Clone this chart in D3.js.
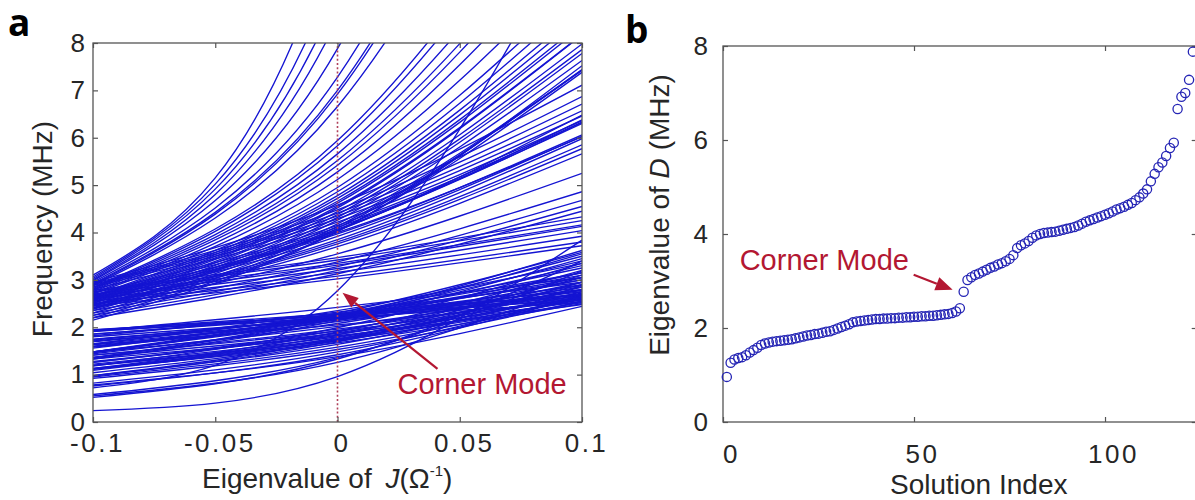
<!DOCTYPE html>
<meta charset="utf-8">
<style>

body {
  margin: 0;
  background: #fff;
}

text {
  font-family: "Liberation Sans", Arial, sans-serif;
  fill: #262626;
}

.tick-label {
  font-size: 26px;
}

.tick-label.x {
  letter-spacing: 2.5px;
}

.axis-label {
  font-size: 28px;
}

.panel-tag {
  font-family: "Open Sans", sans-serif;
  font-weight: bold;
  font-size: 37px;
  fill: #000;
}

.note {
  font-size: 29px;
  fill: #b31732;
}

</style>
<svg width="1195" height="500"></svg>
<script src="https://d3js.org/d3.v7.min.js"></script>
<script>

// ---- panel a: frequency vs eigenvalue of J ----
let jTicks = [-0.1, -0.05, 0, 0.05, 0.1];
let freqTicks = [0, 1, 2, 3, 4, 5, 6, 7, 8];
// each curve is read at J = -0.1, 0 and 0.1 (values above 8 run off the top)
let jSamples = [-0.1, 0, 0.1];

let lowerBand = [
  [0.24, 0.96, 3.84], [0.55, 1.26, 2.89], [0.52, 1.33, 3.40], [0.58, 1.36, 3.19], [0.78, 1.38, 2.44],
  [0.76, 1.42, 2.65], [0.82, 1.48, 2.67], [0.92, 1.53, 2.55], [0.95, 1.58, 2.62], [0.98, 1.64, 2.75],
  [1.12, 1.67, 2.50], [0.97, 1.69, 2.95], [1.12, 1.71, 2.60], [1.04, 1.72, 2.85], [1.19, 1.73, 2.52],
  [0.98, 1.74, 3.10], [1.13, 1.75, 2.70], [1.20, 1.76, 2.58], [1.09, 1.78, 2.90], [1.22, 1.80, 2.65],
  [1.33, 1.82, 2.48], [1.11, 1.84, 3.05], [1.28, 1.85, 2.68], [1.37, 1.87, 2.55], [1.26, 1.88, 2.80],
  [1.13, 1.90, 3.20], [1.41, 1.92, 2.62], [1.26, 1.93, 2.95], [1.41, 1.96, 2.72], [1.18, 1.99, 3.35],
  [1.47, 2.02, 2.78], [1.63, 2.05, 2.58], [1.44, 2.08, 3.00], [1.58, 2.12, 2.85], [1.33, 2.14, 3.45],
  [1.71, 2.15, 2.70], [1.48, 2.16, 3.15], [1.80, 2.17, 2.62], [1.64, 2.18, 2.90], [1.35, 2.19, 3.55],
  [1.75, 2.19, 2.75], [1.59, 2.20, 3.05], [1.92, 2.20, 2.52], [1.48, 2.21, 3.30], [1.74, 2.21, 2.80],
  [1.36, 2.22, 3.62], [1.86, 2.22, 2.65], [1.60, 2.23, 3.10], [1.73, 2.23, 2.88], [1.48, 2.24, 3.40],
  [1.95, 2.24, 2.58], [1.69, 2.25, 3.00], [1.56, 2.25, 3.25], [1.91, 2.26, 2.68], [1.46, 2.26, 3.50],
  [1.85, 2.27, 2.78], [1.65, 2.28, 3.15], [1.94, 2.29, 2.70], [1.48, 2.30, 3.58], [1.82, 2.32, 2.95],
  [1.65, 2.35, 3.35], [1.92, 2.42, 3.05]
];

let cornerCurve = [0.72, 2.77, 10.7];

let upperBand = [
  [2.45, 3.02, 3.72], [2.50, 3.08, 3.80], [2.20, 3.13, 4.45], [2.55, 3.16, 3.92], [2.25, 3.20, 4.55],
  [2.60, 3.24, 4.04], [2.30, 3.28, 4.68], [2.65, 3.31, 4.13], [2.70, 3.35, 4.16], [2.35, 3.38, 4.86],
  [2.75, 3.42, 4.25], [2.78, 3.47, 4.33], [2.40, 3.55, 5.25], [2.42, 3.70, 5.66], [2.45, 3.76, 5.77],
  [2.47, 3.80, 5.85], [2.48, 3.85, 5.98], [2.55, 3.92, 6.03], [2.60, 3.97, 6.06], [2.66, 4.00, 6.02],
  [2.15, 4.02, 7.52], [2.20, 4.03, 7.38], [2.52, 4.04, 6.48], [2.57, 4.05, 6.38], [2.62, 4.07, 6.32],
  [2.25, 4.09, 7.44], [2.68, 4.11, 6.30], [2.30, 4.13, 7.42], [2.72, 4.15, 6.33], [2.35, 4.18, 7.43],
  [2.80, 4.22, 6.36], [2.38, 4.26, 7.63], [2.85, 4.29, 6.46], [2.40, 4.32, 7.78], [2.88, 4.35, 6.57],
  [2.44, 4.38, 7.86], [2.90, 4.41, 6.71], [2.47, 4.44, 7.98], [2.92, 4.48, 6.87], [2.50, 4.52, 8.17],
  [2.53, 4.55, 8.18], [2.95, 4.58, 7.11], [2.56, 4.62, 8.34], [2.58, 4.66, 8.42], [2.60, 4.72, 8.57],
  [2.62, 4.78, 8.72], [2.64, 4.86, 8.95], [2.66, 4.95, 9.21], [2.70, 5.12, 9.71], [2.72, 5.28, 10.25],
  [2.75, 5.42, 10.68], [2.78, 5.52, 10.96], [2.80, 5.66, 11.44], [2.82, 5.83, 12.05], [2.84, 5.94, 12.42],
  [2.88, 6.66, 15.40], [2.90, 6.92, 16.51], [2.92, 7.00, 16.78], [2.95, 7.28, 17.97], [2.98, 7.88, 20.84],
  [3.00, 8.50, 24.1], [3.03, 9.00, 26.7], [3.06, 9.60, 30.1], [3.10, 10.6, 36.2]
];

// ---- panel b: sorted eigenvalues of D ----
let indexTicks = [0, 50, 100];
let eigTicks = [0, 2, 4, 6, 8];
let eigD = [
  0.96, 1.26, 1.33, 1.36, 1.38, 1.42, 1.48, 1.53, 1.58, 1.64,
  1.67, 1.69, 1.71, 1.72, 1.73, 1.74, 1.75, 1.76, 1.78, 1.80,
  1.82, 1.84, 1.85, 1.87, 1.88, 1.90, 1.92, 1.93, 1.96, 1.99,
  2.02, 2.05, 2.08, 2.12, 2.14, 2.15, 2.16, 2.17, 2.18, 2.19,
  2.19, 2.20, 2.20, 2.21, 2.21, 2.22, 2.22, 2.23, 2.23, 2.24,
  2.24, 2.25, 2.25, 2.26, 2.26, 2.27, 2.28, 2.29, 2.30, 2.32,
  2.35, 2.42, 2.77, 3.02, 3.08, 3.13, 3.16, 3.20, 3.24, 3.28,
  3.31, 3.35, 3.38, 3.42, 3.47, 3.55, 3.70, 3.76, 3.80, 3.85,
  3.92, 3.97, 4.00, 4.02, 4.03, 4.04, 4.05, 4.07, 4.09, 4.11,
  4.13, 4.15, 4.18, 4.22, 4.26, 4.29, 4.32, 4.35, 4.38, 4.41,
  4.44, 4.48, 4.52, 4.55, 4.58, 4.62, 4.66, 4.72, 4.78, 4.86,
  4.95, 5.12, 5.28, 5.42, 5.52, 5.66, 5.83, 5.94, 6.66, 6.92,
  7.00, 7.28, 7.88
];
let cornerIndex = 63;

let blue = '#1414d2';
let red = '#b31732';
let frameColor = '#555';

let svg = d3.select('svg');

let xA = d3.scaleLinear().domain([-0.1, 0.1]).range([93, 582]);
let yA = d3.scaleLinear().domain([0, 8]).range([422, 43]);
let xB = d3.scaleLinear().domain([0, 124]).range([723, 1196.7]);
let yB = d3.scaleLinear().domain([0, 8]).range([422, 46]);

// box with inward ticks on all four sides, like matlab
let drawAxes = (x, y, xTicks, yTicks, xPad, yPad, xShift) => {
  let [x0, x1] = x.range();
  let [y0, y1] = y.range();
  let g = svg.append('g');

  g.append('g').attr('transform', `translate(0,${y0})`)
    .call(d3.axisBottom(x).tickValues(xTicks).tickSize(-5).tickPadding(xPad).tickFormat(d => String(d)))
    .call(s => s.selectAll('text').attr('class', 'tick-label x').attr('dx', xShift));
  g.append('g').attr('transform', `translate(0,${y1})`)
    .call(d3.axisTop(x).tickValues(xTicks).tickSize(-5).tickFormat(''));
  g.append('g').attr('transform', `translate(${x0},0)`)
    .call(d3.axisLeft(y).tickValues(yTicks).tickSize(-5).tickPadding(yPad))
    .call(s => s.selectAll('text').attr('class', 'tick-label'));
  g.append('g').attr('transform', `translate(${x1},0)`)
    .call(d3.axisRight(y).tickValues(yTicks).tickSize(-5).tickFormat(''));

  g.selectAll('.domain').remove();
  g.selectAll('.tick line').attr('stroke', frameColor).attr('stroke-width', 1.2);

  g.append('rect')
    .attr('x', x0).attr('y', y1)
    .attr('width', x1 - x0).attr('height', y0 - y1)
    .attr('fill', 'none')
    .attr('stroke', frameColor)
    .attr('stroke-width', 1.3);
};

let arrow = (x1, y1, x2, y2, len, half) => {
  let a = Math.atan2(y2 - y1, x2 - x1);
  let bx = x2 - len * Math.cos(a);
  let by = y2 - len * Math.sin(a);
  svg.append('line')
    .attr('x1', x1).attr('y1', y1).attr('x2', bx).attr('y2', by)
    .attr('stroke', red).attr('stroke-width', 2.2);
  svg.append('path')
    .attr('d', `M${x2},${y2}L${bx + half * Math.sin(a)},${by - half * Math.cos(a)}L${bx - half * Math.sin(a)},${by + half * Math.cos(a)}Z`)
    .attr('fill', red);
};

// ---- panel a ----
svg.append('clipPath').attr('id', 'clipA')
  .append('rect')
    .attr('x', xA.range()[0]).attr('y', yA.range()[1])
    .attr('width', xA.range()[1] - xA.range()[0])
    .attr('height', yA.range()[0] - yA.range()[1]);

let modeLine = d3.line()
  .x((d, i) => xA(jSamples[i]))
  .y(d => yA(d))
  .curve(d3.curveNatural);

svg.append('g')
    .attr('clip-path', 'url(#clipA)')
  .selectAll('path')
  .data(lowerBand.concat(upperBand, [cornerCurve]))
  .join('path')
    .attr('d', modeLine)
    .attr('fill', 'none')
    .attr('stroke', blue)
    .attr('stroke-width', 1.35);

svg.append('line')
  .attr('x1', xA(0)).attr('x2', xA(0))
  .attr('y1', yA(0)).attr('y2', yA(8))
  .attr('stroke', '#b0405a')
  .attr('stroke-width', 1.6)
  .attr('stroke-dasharray', '2,2.2');

drawAxes(xA, yA, jTicks, freqTicks, 12, 8, 4);

let cxA = xA(0), cyA = yA(cornerCurve[1]);
arrow(cxA + 100, cyA + 78, cxA + 5, cyA + 2, 16, 6);
svg.append('text').attr('class', 'note')
  .attr('x', cxA + 60).attr('y', cyA + 103)
  .text('Corner Mode');

let labA = svg.append('text').attr('class', 'axis-label')
  .attr('x', 202).attr('y', 488);
labA.append('tspan').text('Eigenvalue of ');
labA.append('tspan').attr('dx', 6).attr('font-style', 'italic').text('J');
labA.append('tspan').text('(Ω');
labA.append('tspan').attr('font-size', 15).attr('dy', -12).text('-1');
labA.append('tspan').attr('dy', 12).text(')');

svg.append('text').attr('class', 'axis-label')
  .attr('text-anchor', 'middle')
  .attr('transform', 'translate(52,229) rotate(-90)')
  .text('Frequency (MHz)');

svg.append('text').attr('class', 'panel-tag').attr('x', 8).attr('y', 36).text('a');

// ---- panel b ----
drawAxes(xB, yB, indexTicks, eigTicks, 23, 15, 8);

svg.append('g')
  .selectAll('circle')
  .data(eigD)
  .join('circle')
    .attr('cx', (d, i) => xB(i + 1))
    .attr('cy', d => yB(d))
    .attr('r', 4.6)
    .attr('fill', 'none')
    .attr('stroke', '#2525b5')
    .attr('stroke-width', 1.3);

let cxB = xB(cornerIndex), cyB = yB(eigD[cornerIndex - 1]);
arrow(cxB - 50, cyB - 17, cxB - 11, cyB - 2, 17, 7);
svg.append('text').attr('class', 'note')
  .attr('x', cxB - 224).attr('y', cyB - 22)
  .text('Corner Mode');

svg.append('text').attr('class', 'axis-label')
  .attr('x', 890).attr('y', 494)
  .text('Solution Index');

let labB = svg.append('text').attr('class', 'axis-label')
  .attr('text-anchor', 'middle')
  .attr('transform', 'translate(669,215) rotate(-90)');
labB.append('tspan').text('Eigenvalue of ');
labB.append('tspan').attr('font-style', 'italic').text('D');
labB.append('tspan').text(' (MHz)');

svg.append('text').attr('class', 'panel-tag').attr('x', 625).attr('y', 43).text('b');

</script>
